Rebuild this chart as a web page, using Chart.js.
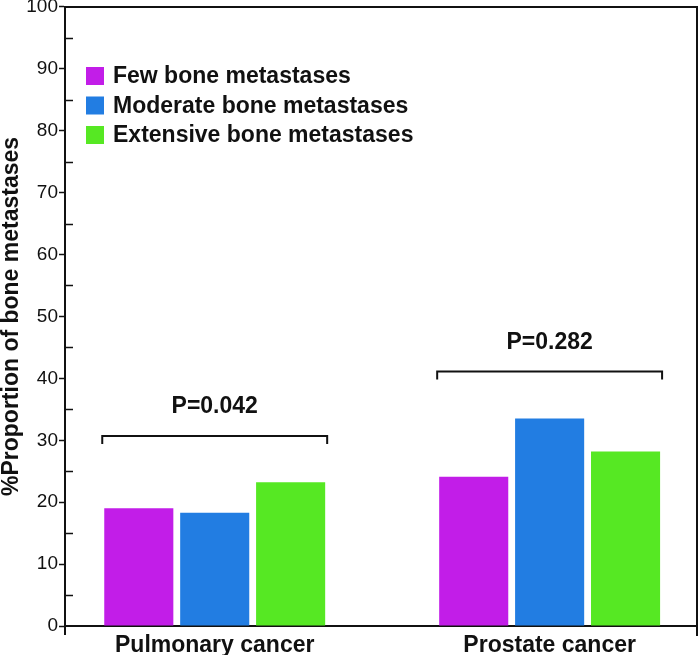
<!DOCTYPE html>
<html>
<head>
<meta charset="utf-8">
<script src="https://cdn.jsdelivr.net/npm/chart.js@4.4.1/dist/chart.umd.min.js"></script>
<style>
  html, body { margin: 0; padding: 0; background: #fff; }
  #wrap { width: 700px; height: 655px; }
</style>
</head>
<body>
<div id="wrap"><canvas id="chart"></canvas></div>
<script>
// categories on the x axis
const categories = ["Pulmonary cancer", "Prostate cancer"];
// series
const seriesNames = ["Few bone metastases", "Moderate bone metastases", "Extensive bone metastases"];
const seriesColors = ["#c21de8", "#227de2", "#56e823"];
const fewValues = [19.0, 24.1];
const moderateValues = [18.3, 33.5];
const extensiveValues = [23.2, 28.2];
// significance brackets
const bracketValues = [30.7, 41.1];
const pLabels = ["P=0.042", "P=0.282"];
// y ticks
const yMin = 0, yMax = 100, yMajorStep = 10, yMinorStep = 5;

const FONT = "'Liberation Sans', Arial, Helvetica, sans-serif";

function toPoints(values) {
  return values.map((v, i) => ({ x: i + 1, y: v }));
}

// draws the frame, inner minor ticks, brackets and legend
const extrasPlugin = {
  id: "extras",
  afterDatasetsDraw(chart) {
    const ctx = chart.ctx;
    const area = chart.chartArea;
    const yScale = chart.scales.y;
    ctx.save();
    ctx.strokeStyle = "#111";
    ctx.lineWidth = 2;

    // top and right edge of the box, plus the little stubs below the bottom corners
    ctx.beginPath();
    ctx.moveTo(area.left, area.top);
    ctx.lineTo(area.right, area.top);
    ctx.lineTo(area.right, area.bottom + 10);
    ctx.moveTo(area.left, area.bottom);
    ctx.lineTo(area.left, area.bottom + 9);
    ctx.stroke();

    // minor ticks point inwards
    ctx.beginPath();
    for (let v = yMin + yMinorStep; v < yMax; v += yMajorStep) {
      const py = Math.round(yScale.getPixelForValue(v)) + 0.5;
      ctx.moveTo(area.left, py);
      ctx.lineTo(area.left + 8, py);
    }
    ctx.lineWidth = 1.5;
    ctx.stroke();

    // brackets with p values
    const first = chart.getDatasetMeta(0);
    const last = chart.getDatasetMeta(chart.data.datasets.length - 1);
    ctx.lineWidth = 2;
    ctx.fillStyle = "#111";
    ctx.font = "bold 23px " + FONT;
    ctx.textAlign = "center";
    ctx.textBaseline = "middle";
    bracketValues.forEach((val, i) => {
      const b0 = first.data[i], b2 = last.data[i];
      const left = b0.x - b0.width / 2 - 2;
      const right = b2.x + b2.width / 2 + 2;
      const py = yScale.getPixelForValue(val);
      ctx.beginPath();
      ctx.moveTo(left, py + 8);
      ctx.lineTo(left, py);
      ctx.lineTo(right, py);
      ctx.lineTo(right, py + 8);
      ctx.stroke();
      ctx.fillText(pLabels[i], (left + right) / 2, py - 29);
    });

    // legend inside the plot
    ctx.textAlign = "left";
    chart.data.datasets.forEach((ds, i) => {
      const cy = 76 + i * 29.5;
      ctx.fillStyle = ds.backgroundColor;
      ctx.fillRect(area.left + 21, cy - 9, 18, 18);
      ctx.fillStyle = "#111";
      ctx.fillText(ds.label, area.left + 48, cy + 1);
    });
    ctx.restore();
  },
};

const chartData = {
  datasets: [
    { label: seriesNames[0], data: toPoints(fewValues), backgroundColor: seriesColors[0] },
    { label: seriesNames[1], data: toPoints(moderateValues), backgroundColor: seriesColors[1] },
    { label: seriesNames[2], data: toPoints(extensiveValues), backgroundColor: seriesColors[2] },
  ],
};

const config = {
  type: "bar",
  data: chartData,
  options: {
    responsive: true,
    maintainAspectRatio: false,
    animation: false,
    categoryPercentage: 0.68,
    barPercentage: 0.91,
    layout: { padding: { top: 0, right: 3, left: 0, bottom: 0 } },
    plugins: {
      legend: { display: false },
      tooltip: { enabled: false },
    },
    scales: {
      x: {
        type: "linear",
        offset: false,
        min: 0.553,
        max: 2.44,
        afterBuildTicks: (scale) => {
          scale.ticks = categories.map((c, i) => ({ value: i + 1 }));
        },
        afterFit: (scale) => {
          scale.height = 29;
        },
        grid: { display: false },
        border: { display: true, color: "#111", width: 2 },
        ticks: {
          autoSkip: false,
          maxRotation: 0,
          padding: -2,
          color: "#111",
          font: { family: FONT, size: 23, weight: "bold" },
          callback: (value) => categories[value - 1] || "",
        },
      },
      y: {
        min: yMin,
        max: yMax,
        afterFit: (scale) => {
          scale.width = 65;
        },
        grid: {
          drawOnChartArea: false,
          drawTicks: true,
          tickLength: 6,
          tickWidth: 1.5,
          color: (c) => (c.tick && c.tick.value % yMajorStep === 0 ? "#111" : "rgba(0,0,0,0)"),
        },
        border: { display: true, color: "#111", width: 2 },
        ticks: {
          stepSize: yMinorStep,
          padding: 1,
          color: "#111",
          font: { family: FONT, size: 19, lineHeight: 0.62 },
          callback: (value) => (value % yMajorStep === 0 ? value : ""),
        },
        title: {
          display: true,
          text: "%Proportion of bone metastases",
          color: "#111",
          padding: 0,
          font: { family: FONT, size: 23, weight: "bold", lineHeight: 1.0 },
        },
      },
    },
  },
  plugins: [extrasPlugin],
};

new Chart(document.getElementById("chart"), config);
</script>
</body>
</html>
